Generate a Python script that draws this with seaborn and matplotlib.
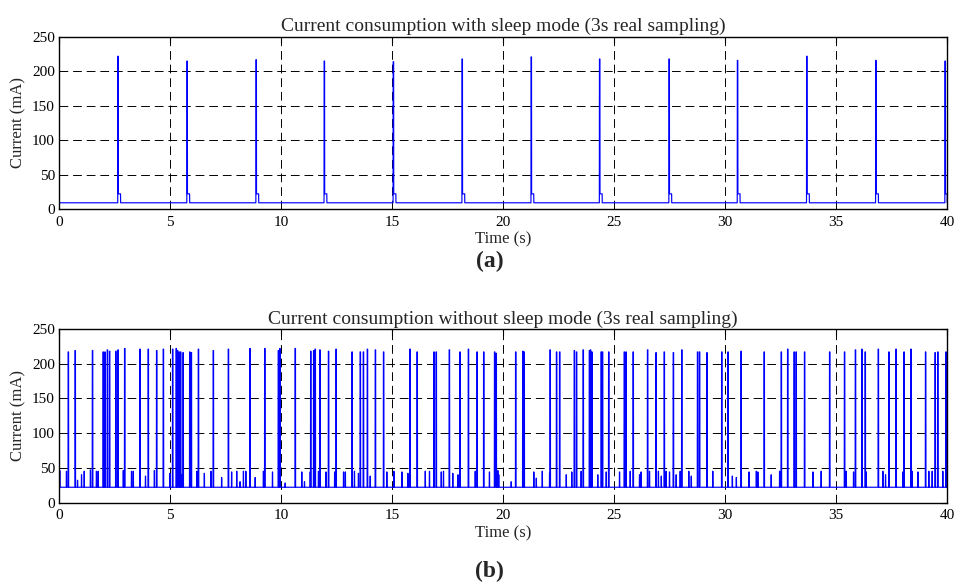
import numpy as np
import matplotlib
matplotlib.use("Agg")
import matplotlib.pyplot as plt
import seaborn as sns

# ---- data ----
# (a) with sleep mode: one wake-up burst every ~3.1 s
sleep_spike_t = [2.65, 5.76, 8.87, 11.94, 15.05, 18.15, 21.26, 24.34, 27.47,
                 30.55, 33.67, 36.78, 39.90]
sleep_spike_mA = [222, 215, 217, 215, 214, 218, 221, 218, 218, 216, 222, 216, 215]
sleep_base_mA = 9
sleep_shoulder_mA = 22

# (b) without sleep mode: many transmissions
awake_spike_t = [0.41, 0.72, 1.50, 1.98, 2.06, 2.17, 2.27, 2.55, 2.65, 2.95,
                 3.64, 4.01, 4.39, 4.69, 5.11, 5.27, 5.33, 5.40, 5.47, 5.58,
                 5.88, 5.95, 6.27, 6.94, 7.62, 8.59, 9.26, 9.87, 9.94, 10.63,
                 11.33, 11.46, 11.53, 11.74, 12.13, 12.47, 13.19, 13.56, 13.70, 13.88,
                 14.24, 14.61, 15.80, 16.12, 16.88, 16.98, 17.57, 18.05, 18.43, 18.82,
                 19.12, 19.61, 19.68, 20.56, 20.88, 20.94, 22.11, 22.40, 22.54, 23.20,
                 23.30, 23.60, 23.88, 23.93, 23.99, 24.41, 24.47, 24.75, 25.45, 25.53,
                 25.85, 26.50, 26.88, 27.25, 27.66, 28.04, 28.75, 28.84, 29.17, 29.84,
                 30.12, 30.71, 31.75, 32.52, 32.81, 33.10, 33.19, 33.57, 34.70, 35.37,
                 35.86, 36.15, 36.30, 36.89, 37.37, 37.69, 38.05, 38.36, 39.02, 39.45,
                 39.57, 39.94]
awake_spike_mA = [217, 219, 219, 217, 217, 220, 218, 218, 220, 222,
                  221, 221, 219, 221, 221, 222, 219, 217, 217, 216,
                  217, 216, 221, 219, 221, 222, 222, 219, 222, 222,
                  218, 219, 221, 220, 218, 221, 217, 217, 217, 221,
                  220, 217, 221, 217, 217, 217, 220, 217, 221, 217,
                  217, 217, 215, 217, 218, 217, 220, 217, 217, 219,
                  217, 220, 219, 220, 217, 217, 217, 217, 217, 217,
                  217, 220, 216, 217, 216, 220, 217, 217, 216, 217,
                  217, 218, 217, 217, 221, 217, 217, 217, 217, 217,
                  220, 221, 217, 221, 217, 221, 217, 221, 217, 216,
                  217, 217]
awake_bump_t = [0.03, 0.33, 0.83, 1.01, 1.13, 1.41, 1.68, 1.76, 2.89, 3.26,
                3.34, 3.89, 4.29, 4.99, 5.44, 5.52, 6.20, 6.54, 6.84, 7.32,
                7.77, 8.00, 8.15, 8.30, 8.41, 8.83, 9.20, 9.61, 10.18, 10.93,
                11.05, 11.31, 11.68, 12.02, 12.41, 12.81, 12.89, 13.30, 13.48, 14.01,
                14.76, 15.08, 15.44, 15.71, 16.49, 16.68, 17.21, 17.31, 17.73, 17.96,
                18.74, 19.38, 19.76, 19.80, 20.36, 21.38, 21.49, 21.76, 22.09, 22.84,
                23.09, 23.51, 24.26, 24.64, 25.24, 25.72, 26.14, 26.21, 26.59, 26.99,
                27.12, 27.34, 27.49, 27.79, 27.97, 28.36, 28.47, 29.44, 30.32, 30.50,
                31.07, 31.40, 31.47, 32.07, 32.45, 33.95, 34.32, 35.45, 35.78, 36.35,
                37.10, 37.22, 38.00, 38.42, 38.68, 39.17, 39.32, 39.80]
awake_bump_mA = [46, 45, 32, 40, 45, 47, 45, 45, 46, 45,
                 45, 38, 46, 42, 46, 40, 45, 42, 45, 36,
                 44, 45, 30, 45, 45, 36, 45, 44, 28, 44,
                 30, 44, 45, 44, 44, 44, 44, 45, 42, 38,
                 44, 45, 44, 42, 45, 45, 44, 45, 42, 40,
                 45, 44, 46, 40, 30, 44, 35, 45, 42, 40,
                 44, 45, 40, 44, 44, 45, 40, 44, 45, 45,
                 38, 45, 44, 40, 45, 45, 38, 45, 38, 36,
                 44, 45, 44, 40, 45, 44, 45, 45, 44, 44,
                 45, 40, 44, 45, 44, 45, 45, 45]
awake_base_mA = 22

x_ticks = [0, 5, 10, 15, 20, 25, 30, 35, 40]
y_ticks = [0, 50, 100, 150, 200, 250]


def build_trace(spike_t, spike_mA, base, bump_t=(), bump_mA=(), shoulder=None):
    # turn pulse lists into one step trace over 0..40 s
    events = []
    for t, h in zip(spike_t, spike_mA):
        pts = [(t - 0.005, base), (t, h), (t + 0.02, h)]
        if shoulder is not None:
            pts += [(t + 0.025, shoulder), (t + 0.12, shoulder), (t + 0.125, base)]
        else:
            pts += [(t + 0.025, base)]
        events.append(pts)
    for t, h in zip(bump_t, bump_mA):
        events.append([(t - 0.005, base), (t, h), (t + 0.01, h), (t + 0.015, base)])
    events.sort(key=lambda p: p[0][0])
    xs, ys = [0.0], [base]
    for pts in events:
        for px, py in pts:
            xs.append(min(max(px, 0.0), 40.0))
            ys.append(py)
    xs.append(40.0)
    ys.append(base)
    return np.array(xs), np.array(ys)


t_a, i_a = build_trace(sleep_spike_t, sleep_spike_mA, sleep_base_mA,
                       shoulder=sleep_shoulder_mA)
t_b, i_b = build_trace(awake_spike_t, awake_spike_mA, awake_base_mA,
                       awake_bump_t, awake_bump_mA)

sns.set_style("white")
plt.rcParams['font.family'] = ['Liberation Serif', 'DejaVu Serif']

fig = plt.figure(figsize=(9.55, 5.88), dpi=100)
ax_a = fig.add_axes([0.0618, 0.6446, 0.9300, 0.2925])
ax_b = fig.add_axes([0.0618, 0.1454, 0.9300, 0.2950])

panels = [
    (ax_a, t_a, i_a, 'Current consumption with sleep mode (3s real sampling)'),
    (ax_b, t_b, i_b, 'Current consumption without sleep mode (3s real sampling)'),
]
for ax, tt, ii, title in panels:
    sns.lineplot(x=tt, y=ii, ax=ax, color='#0000ff', linewidth=0.85,
                 estimator=None, sort=False)
    ax.set_xlim(0, 40)
    ax.set_ylim(0, 250)
    ax.set_xticks(x_ticks)
    ax.set_yticks(y_ticks)
    ax.grid(True, color='black', linestyle=(0, (9, 5)), linewidth=0.7)
    ax.set_axisbelow(True)
    ax.tick_params(direction='in', length=4, width=0.8, top=True, right=True,
                   labelsize=11, colors='black')
    ax.tick_params(axis='x', pad=5)
    ax.tick_params(axis='y', pad=3)
    for sp in ax.spines.values():
        sp.set_color('black')
        sp.set_linewidth(1.0)
    ax.set_title(title, fontsize=14, pad=4)
    ax.set_xlabel('Time (s)', fontsize=12, labelpad=2)
    ax.set_ylabel('Current (mA)', fontsize=12, labelpad=4)

fig.text(0.513, 1 - 261 / 588, '(a)', fontsize=17, fontweight='bold',
         ha='center', va='center')
fig.text(0.513, 1 - 571 / 588, '(b)', fontsize=17, fontweight='bold',
         ha='center', va='center')

fig.savefig('out.png', dpi=100, facecolor='white')
plt.close(fig)
